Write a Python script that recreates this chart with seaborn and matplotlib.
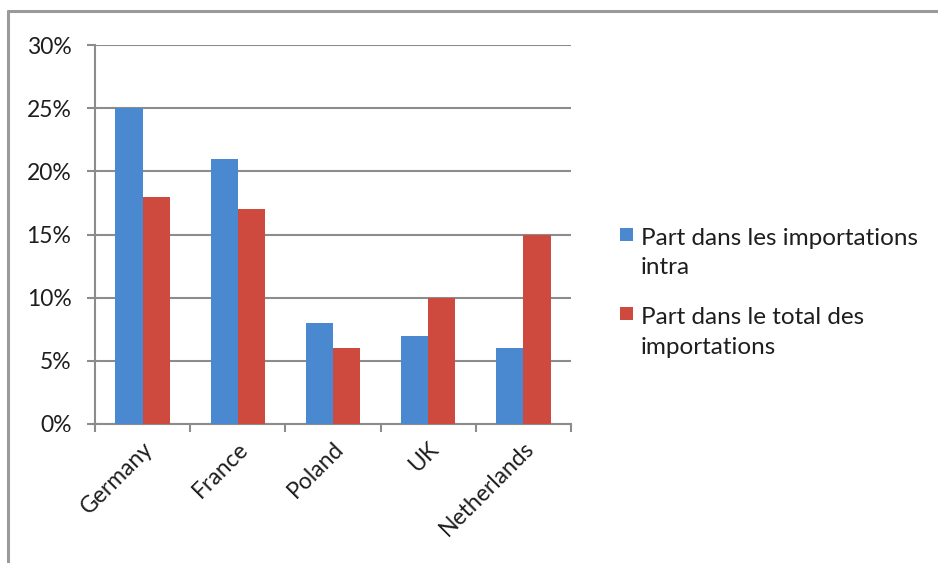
import matplotlib
matplotlib.use("Agg")
import matplotlib.pyplot as plt
from matplotlib.lines import Line2D
from matplotlib.patches import Rectangle
from matplotlib.ticker import FuncFormatter, MultipleLocator
import seaborn as sns
import pandas as pd

countries = ["Germany", "France", "Poland", "UK", "Netherlands"]
series_names = ["Part dans les importations\nintra",
                "Part dans le total des\nimportations"]
share_intra = [25, 21, 8, 7, 6]
share_total = [18, 17, 6, 10, 15]
colors = ["#4A89D0", "#CE4A3E"]

df = pd.DataFrame({
    "country": countries * 2,
    "series": [series_names[0]] * len(countries) + [series_names[1]] * len(countries),
    "value": share_intra + share_total,
})

sns.set_theme(style="white")
plt.rcParams["font.family"] = ["Lato", "DejaVu Sans"]

W, H = 938, 563
fig = plt.figure(figsize=(W / 100, H / 100), dpi=100)
ax = fig.add_axes([95 / W, 1 - 424 / H, (571 - 95) / W, (424 - 45) / H])

sns.barplot(data=df, x="country", y="value", hue="series", order=countries,
            hue_order=series_names, palette=colors, width=0.57, gap=0,
            saturation=1, edgecolor="none", legend=False, ax=ax, zorder=3)

ax.set_ylim(0, 30)
ax.set_xlim(-0.5, len(countries) - 0.5)
ax.yaxis.set_major_locator(MultipleLocator(5))
ax.yaxis.set_major_formatter(FuncFormatter(lambda v, p: f"{v:.0f}%"))
ax.set_xlabel("")
ax.set_ylabel("")

grid_c = "#8C8C8C"
text_c = "#1E1E1E"
ax.grid(axis="y", color=grid_c, linewidth=1.5, zorder=0)
ax.set_axisbelow(True)
for s in ["top", "right"]:
    ax.spines[s].set_visible(False)
for s in ["left", "bottom"]:
    ax.spines[s].set_color(grid_c)
    ax.spines[s].set_linewidth(1.5)

# category boundary ticks on the x axis
ax.set_xticks([i - 0.5 for i in range(len(countries) + 1)], minor=True)
ax.tick_params(axis="x", which="minor", length=6, width=1.5, color=grid_c,
               direction="out", bottom=True)
ax.tick_params(axis="x", which="major", length=0, labelsize=16.5, pad=10)
ax.tick_params(axis="y", length=6, width=1.5, color=grid_c, direction="out",
               left=True, labelsize=16.5, pad=11)
ax.set_xticks(range(len(countries)))
ax.set_xticklabels(countries, rotation=45, ha="right", rotation_mode="anchor")
for lab in ax.get_xticklabels() + ax.get_yticklabels():
    lab.set_color(text_c)

# legend: square swatch aligned with the first line of each label
legend_rows = [228, 307]  # top of each swatch, in pixels from the top
for name, c, top in zip(series_names, colors, legend_rows):
    fig.add_artist(Rectangle((620 / W, 1 - (top + 13) / H), 13 / W, 13 / H,
                             facecolor=c, edgecolor="none",
                             transform=fig.transFigure))
    fig.text(641 / W, 1 - top / H, name, fontsize=17.5, color=text_c,
             va="top", ha="left", linespacing=1.5)

# outer chart frame (top and left edges)
frame_c = "#9A9A9A"
fig.add_artist(Line2D([8 / W, 1.0], [1 - 11 / H, 1 - 11 / H], color=frame_c,
                      linewidth=2.2, transform=fig.transFigure))
fig.add_artist(Line2D([8 / W, 8 / W], [0.0, 1 - 11 / H], color=frame_c,
                      linewidth=2.2, transform=fig.transFigure))

fig.savefig("out.png", dpi=100)
